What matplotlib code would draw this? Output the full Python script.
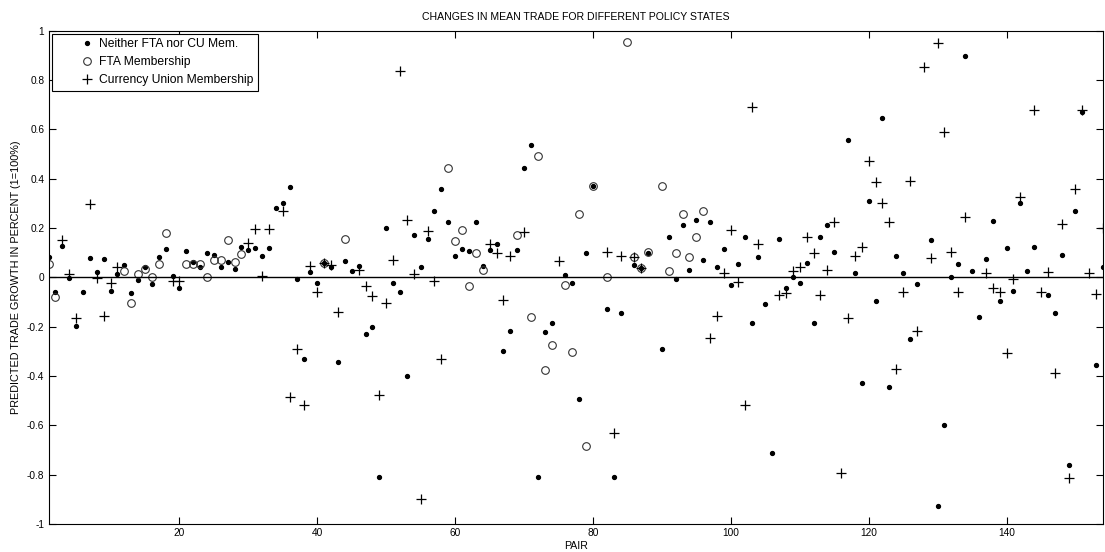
import numpy as np
import matplotlib
matplotlib.use('Agg')
import matplotlib.pyplot as plt
from matplotlib.legend_handler import HandlerLine2D

# pair index -> predicted trade growth
neither_x = [1, 2, 3, 4, 5, 6, 7, 8, 9, 10, 11, 12, 13, 14, 15, 16, 17, 18, 19, 20,
             21, 22, 23, 24, 25, 26, 27, 28, 29, 30, 31, 32, 33, 34, 35, 36, 37, 38, 39, 40,
             41, 42, 43, 44, 45, 46, 47, 48, 49, 50, 51, 52, 53, 54, 55, 56, 57, 58, 59, 60,
             61, 62, 63, 64, 65, 66, 67, 68, 69, 70, 71, 72, 73, 74, 76, 77, 78, 79, 80,
             82, 83, 84, 86, 87, 88, 90, 91, 92, 93, 94, 95, 96, 97, 98, 99, 100,
             101, 102, 103, 104, 105, 106, 107, 108, 109, 110, 111, 112, 113, 114, 115, 117, 118, 119, 120,
             121, 122, 123, 124, 125, 126, 127, 129, 130, 131, 132, 133, 134, 135, 136, 137, 138, 139, 140,
             141, 142, 143, 144, 146, 147, 148, 149, 150, 151, 153, 154]
neither_y = [0.081, -0.061, 0.127, -0.004, -0.196, -0.061, 0.078, 0.020, 0.073, -0.054,
             0.015, 0.049, -0.065, -0.011, 0.042, -0.027, 0.084, 0.116, 0.005, -0.045,
             0.108, 0.062, 0.041, 0.100, 0.091, 0.041, 0.062, 0.035, 0.122, 0.111,
             0.120, 0.086, 0.120, 0.280, 0.300, 0.365, -0.008, -0.332, 0.020, -0.024,
             0.057, 0.043, -0.342, 0.066, 0.026, 0.046, -0.230, -0.203, -0.811, 0.199,
             -0.022, -0.058, -0.400, 0.170, 0.042, 0.157, 0.270, 0.357, 0.222, 0.086,
             0.116, 0.108, 0.222, 0.046, 0.112, 0.136, -0.299, -0.216, 0.112, 0.441,
             0.535, -0.811, -0.222, -0.186, 0.009, -0.022, -0.492, 0.100, 0.370,
             -0.130, -0.811, -0.146, 0.050, 0.036, 0.097, -0.292, 0.162, -0.008, 0.212,
             0.030, 0.232, 0.068, 0.223, 0.041, 0.115, -0.030,
             0.053, 0.162, -0.186, 0.081, -0.108, -0.711, 0.154, -0.045, 0.000, -0.022,
             0.059, -0.186, 0.162, 0.212, 0.104, 0.557, 0.016, -0.428, 0.311,
             -0.096, 0.645, -0.445, 0.086, 0.016, -0.250, -0.027, 0.149, -0.927, -0.600,
             0.003, 0.053, 0.897, 0.026, -0.162, 0.073, 0.228, -0.096, 0.120,
             -0.054, 0.300, 0.026, 0.124, -0.072, -0.146, 0.091, -0.761, 0.269, 0.672,
             -0.354, 0.041]

fta_x = [1, 2, 12, 13, 14, 15, 16, 17, 18, 21, 22, 23, 24, 25, 26, 27, 28, 29, 41, 44,
         59, 60, 61, 62, 63, 64, 69, 71, 72, 73, 74, 76, 77, 78, 79, 80, 82, 85, 86, 87,
         88, 90, 91, 92, 93, 94, 95, 96]
fta_y = [0.053, -0.081, 0.024, -0.105, 0.012, 0.035, 0.003, 0.053, 0.181, 0.053,
         0.053, 0.053, 0.003, 0.070, 0.070, 0.149, 0.062, 0.095, 0.057, 0.154,
         0.441, 0.145, 0.190, -0.034, 0.100, 0.030, 0.170, -0.162, 0.493, -0.376,
         -0.274, -0.031, -0.304, 0.257, -0.686, 0.370, 0.003, 0.955, 0.081, 0.036,
         0.104, 0.370, 0.026, 0.100, 0.257, 0.081, 0.162, 0.269]

cu_x = [3, 4, 5, 7, 8, 9, 10, 11, 19, 20, 30, 31, 32, 33, 35, 36, 37, 38, 39, 40,
        41, 42, 43, 46, 47, 48, 49, 50, 51, 52, 53, 54, 55, 56, 57, 58, 65, 66, 67, 68,
        70, 75, 82, 83, 84, 86, 87, 97, 98, 99, 100, 101, 102, 103, 104, 107, 108, 109, 110,
        111, 112, 113, 114, 115, 116, 117, 118, 119, 120, 121, 122, 123, 124, 125, 126, 127,
        128, 129, 130, 131, 132, 133, 134, 137, 138, 139, 140, 141, 142, 144, 145, 146, 147,
        148, 149, 150, 151, 152, 153, 154]
cu_y = [0.149, 0.012, -0.166, 0.297, -0.004, -0.157, -0.022, 0.041, -0.014, -0.014,
        0.138, 0.197, 0.007, 0.197, 0.269, -0.484, -0.292, -0.518, 0.046, -0.058,
        0.057, 0.050, -0.139, 0.030, -0.035, -0.078, -0.478, -0.105, 0.070, 0.838,
        0.232, 0.012, -0.899, 0.188, -0.014, -0.332, 0.134, 0.100, -0.092, 0.086,
        0.184, 0.066, 0.104, -0.630, 0.086, 0.081, 0.036, -0.247, -0.157, 0.016, 0.192,
        -0.020, -0.520, 0.689, 0.134, -0.074, -0.062, 0.027, 0.043,
        0.165, 0.100, -0.072, 0.030, 0.223, -0.795, -0.166, 0.086, 0.124, 0.473,
        0.385, 0.303, 0.222, -0.372, -0.058, 0.391, -0.216,
        0.851, 0.078, 0.951, 0.589, 0.104, -0.058, 0.246, 0.016, -0.045, -0.058, -0.308,
        -0.008, 0.324, 0.677, -0.058, 0.020, -0.390,
        0.216, -0.815, 0.357, 0.677, 0.016, -0.068, 0.200]

ytick_vals = [-1, -0.8, -0.6, -0.4, -0.2, 0, 0.2, 0.4, 0.6, 0.8, 1]
ytick_labels = ['-1', '-0.8', '-0.6', '-0.4', '-0.2', '0', '0.2', '0.4', '0.6', '0.8', '1']
xtick_vals = [20, 40, 60, 80, 100, 120, 140]


# matlab puts the legend marker close to the text, not in the middle of the handle.
# with one point the handler marks the middle of xdata, so centre xdata there
class RightMarker(HandlerLine2D):
    def get_xdata(self, legend, xdescent, ydescent, width, height, fontsize):
        m = -xdescent + width - 5.8
        return np.array([m - 1.0, m + 1.0]), np.array([m])


plt.rcParams['font.family'] = ['Liberation Sans', 'DejaVu Sans']

fig = plt.figure(figsize=(11.05, 5.52), dpi=100)
ax = fig.add_axes([0.0439, 0.051, 0.9543, 0.8935])

ax.plot(neither_x, neither_y, linestyle='none', marker='o', markersize=2.8,
        color='black', label='Neither FTA nor CU Mem.')
ax.plot(fta_x, fta_y, linestyle='none', marker='o', markersize=5.5,
        markerfacecolor='none', markeredgecolor='#333333', markeredgewidth=0.8,
        label='FTA Membership')
ax.plot(cu_x, cu_y, linestyle='none', marker='+', markersize=6.5,
        color='black', markeredgewidth=0.9, label='Currency Union Membership')
ax.axhline(0, color='black', linewidth=1)

ax.set_xlim(1, 154)
ax.set_ylim(-1, 1)
ax.set_xticks(xtick_vals)
ax.set_yticks(ytick_vals)
ax.set_yticklabels(ytick_labels)
ax.tick_params(direction='in', top=True, right=True, length=5, width=0.8,
               labelsize=7.3, pad=3)
for s in ax.spines.values():
    s.set_linewidth(0.8)

ax.set_title('CHANGES IN MEAN TRADE FOR DIFFERENT POLICY STATES', fontsize=7.6, pad=8)
ax.set_xlabel('PAIR', fontsize=7.6, labelpad=2)
ax.set_ylabel('PREDICTED TRADE GROWTH IN PERCENT (1=100%)', fontsize=7.8, labelpad=4)

leg = ax.legend(loc='upper left', fontsize=8.7, fancybox=False, framealpha=1,
                edgecolor='black', borderaxespad=0.25, handletextpad=0.3,
                labelspacing=0.52, borderpad=0.35, handlelength=3.27,
                handler_map={plt.Line2D: RightMarker(numpoints=1)})
leg.get_frame().set_linewidth(0.8)

fig.savefig('out.png', dpi=100)
